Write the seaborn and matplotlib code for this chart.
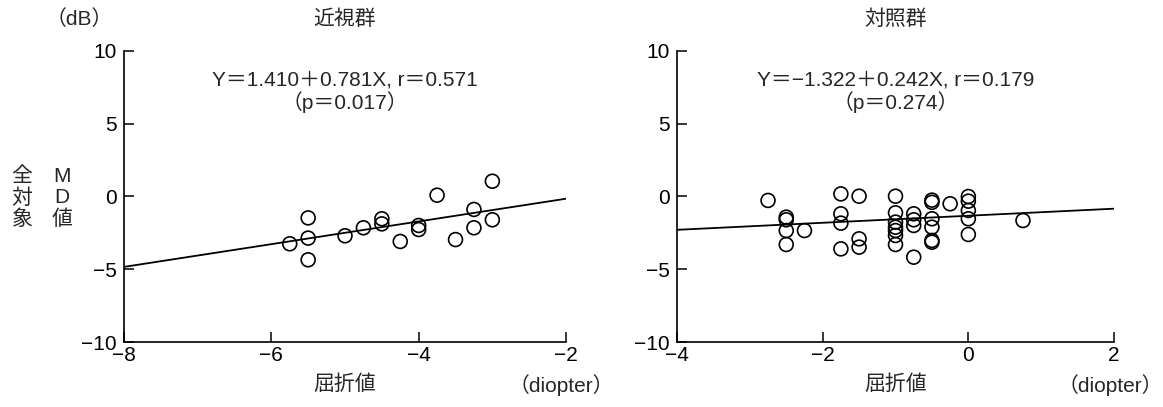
import numpy as np
import pandas as pd
import matplotlib
matplotlib.use("Agg")
import matplotlib.pyplot as plt
import seaborn as sns

# 近視群 (myopia group)
myopia_x = [-5.75, -5.5, -5.5, -5.5, -5.0, -4.75, -4.5, -4.5, -4.25, -4.0,
            -4.0, -3.75, -3.5, -3.25, -3.25, -3.0, -3.0]
myopia_y = [-3.25, -1.47, -2.86, -4.35, -2.70, -2.15, -1.53, -1.88, -3.09, -1.99,
            -2.27, 0.09, -2.96, -0.89, -2.15, 1.05, -1.60]
myopia_fit = (1.410, 0.781)

# 対照群 (control group)
control_x = [-2.75, -2.5, -2.5, -2.5, -2.5, -2.25,
             -1.75, -1.75, -1.75, -1.75, -1.5, -1.5, -1.5,
             -1.0, -1.0, -1.0, -1.0, -1.0, -1.0, -1.0,
             -0.75, -0.75, -0.75, -0.75,
             -0.5, -0.5, -0.5, -0.5, -0.5, -0.5, -0.25,
             0.0, 0.0, 0.0, 0.0, 0.0, 0.75]
control_y = [-0.27, -1.42, -1.60, -2.34, -3.30, -2.34,
             0.18, -1.19, -1.83, -3.60, 0.02, -2.91, -3.48,
             0.02, -1.12, -1.76, -2.11, -2.34, -2.68, -3.30,
             -1.19, -1.60, -1.99, -4.17,
             -0.25, -0.40, -1.53, -2.11, -3.02, -3.14, -0.50,
             0.0, -0.32, -0.96, -1.53, -2.61, -1.65]
control_fit = (-1.322, 0.242)

panels = [
    dict(title="近視群", x=myopia_x, y=myopia_y, fit=myopia_fit, xlim=(-8, -2),
         eq="Y＝1.410＋0.781X, r＝0.571", p="（p＝0.017）", unit_right=0.528),
    dict(title="対照群", x=control_x, y=control_y, fit=control_fit, xlim=(-4, 2),
         eq="Y＝−1.322＋0.242X, r＝0.179", p="（p＝0.274）", unit_right=1.0),
]

FS = 15

sns.set_theme(style="ticks")
plt.rcParams["font.family"] = ["Liberation Sans", "Noto Sans CJK JP", "DejaVu Sans"]

fig = plt.figure(figsize=(11.63, 4.07), dpi=100)
axes = [fig.add_axes([0.1066, 0.1597, 0.3801, 0.7150]),
        fig.add_axes([0.5821, 0.1597, 0.3758, 0.7150])]

for ax, p in zip(axes, panels):
    df = pd.DataFrame({"x": p["x"], "y": p["y"]})
    sns.scatterplot(data=df, x="x", y="y", ax=ax, s=100, facecolor="none",
                    edgecolor="black", linewidth=1.2, clip_on=False)
    a, b = p["fit"]
    line = pd.DataFrame({"x": list(p["xlim"])})
    line["y"] = a + b * line["x"]
    sns.lineplot(data=line, x="x", y="y", ax=ax, color="black", linewidth=1.3)

    ax.set_xlim(*p["xlim"])
    ax.set_ylim(-10, 10)
    ax.set_xticks(np.arange(p["xlim"][0], p["xlim"][1] + 1, 2))
    ax.set_yticks([-10, -5, 0, 5, 10])
    ax.tick_params(direction="in", length=7, width=1.1, labelsize=FS, color="black",
                   labelcolor="black")
    ax.tick_params(axis="x", pad=3)
    ax.tick_params(axis="y", pad=5)
    for side in ["top", "right"]:
        ax.spines[side].set_visible(False)
    for side in ["left", "bottom"]:
        ax.spines[side].set_linewidth(1.2)
        ax.spines[side].set_color("black")
    ax.set_xlabel("")
    ax.set_ylabel("")

    xc = np.mean(p["xlim"])
    ax.text(xc, 8.0, p["eq"], ha="center", va="center", fontsize=FS)
    ax.text(xc, 6.5, p["p"], ha="center", va="center", fontsize=FS)

    bb = ax.get_position()
    fig.text(bb.x0 + bb.width * 0.5, 0.953, p["title"], ha="center", va="center",
             fontsize=FS)
    fig.text(bb.x0 + bb.width * 0.5, 0.055, "屈折値", ha="center", va="center",
             fontsize=FS)
    fig.text(p["unit_right"], 0.055, "（diopter）", ha="right", va="center",
             fontsize=FS)

fig.text(0.068, 0.953, "（dB）", ha="center", va="center", fontsize=FS)
for i, ch in enumerate("全対象"):
    fig.text(0.019, 0.567 - i * 0.053, ch, ha="center", va="center", fontsize=FS)
for i, ch in enumerate(["M", "D", "値"]):
    fig.text(0.053, 0.567 - i * 0.053, ch, ha="center", va="center", fontsize=FS)

fig.savefig("out.png", dpi=100)
